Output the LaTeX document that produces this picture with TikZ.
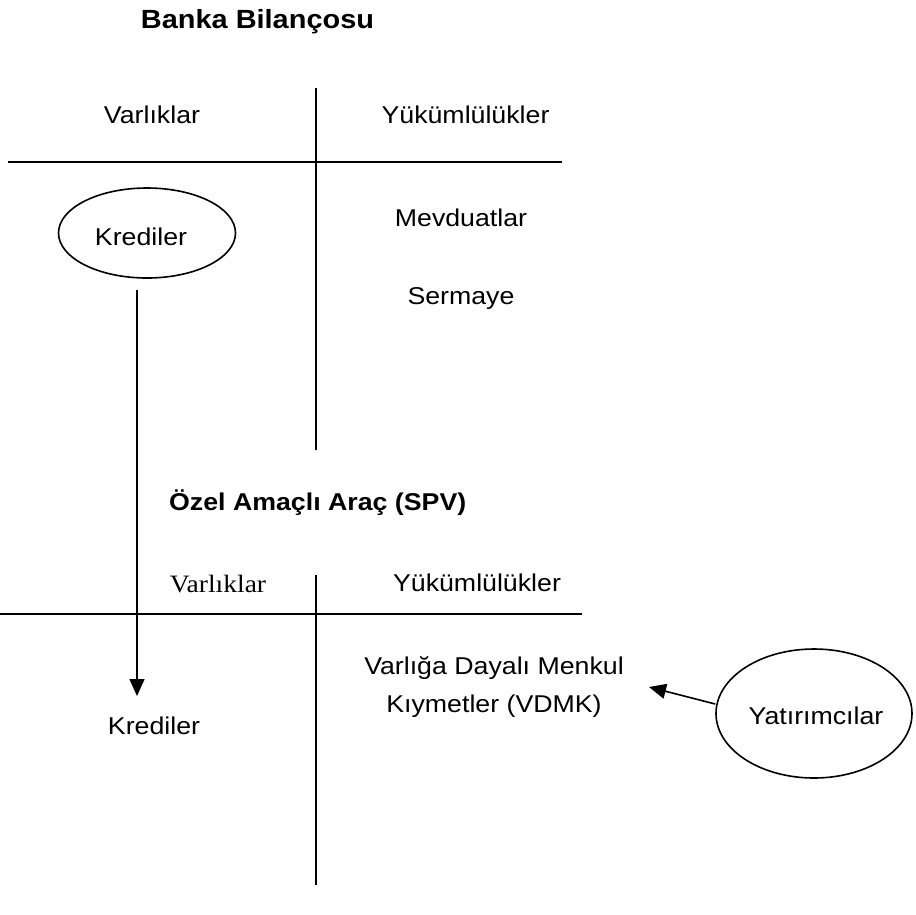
\documentclass[tikz,border=0pt]{standalone}
\usepackage{fontspec}
\setmainfont{Liberation Sans}[FakeStretch=1.1]
\newfontfamily\timesfont{Liberation Serif}[FakeStretch=1.1]
\usetikzlibrary{arrows.meta,shapes.geometric}
\begin{document}
\begin{tikzpicture}[x=1pt,y=-1pt,
  lbl/.style={font=\fontsize{24.3}{28}\selectfont, inner sep=0pt, anchor=base},
  ttl/.style={font=\bfseries\fontsize{24.3}{28}\selectfont, inner sep=0pt, anchor=base},
  rule/.style={line width=1.6pt},
  bubble/.style={draw, ellipse, line width=1.6pt, inner sep=0pt},
  flow/.style={line width=1.6pt, -{Triangle[length=17pt,width=15pt]}}]
  \useasboundingbox (0,0) rectangle (916,914);

  % bank balance sheet
  \node[ttl, font=\bfseries\fontsize{26.3}{30}\selectfont] (t1) at (257.5,28) {Banka Bilançosu};
  \coordinate (v1a) at (316,88);
  \coordinate (v1b) at (316,450);
  \coordinate (h1a) at (8,162);
  \coordinate (h1b) at (562,162);
  \draw[rule] (v1a) -- (v1b);
  \draw[rule] (h1a) -- (h1b);
  \node[lbl] (a1) at (152,123) {Varlıklar};
  \node[lbl] (l1) at (465.5,123) {Yükümlülükler};
  \node[bubble, minimum width=177pt, minimum height=90pt] (kr1) at (147,233) {};
  \node[lbl] (kr1t) at (141,245) {Krediler};
  \node[lbl] (dep) at (461,226) {Mevduatlar};
  \node[lbl] (cap) at (461,304) {Sermaye};

  % special purpose vehicle balance sheet
  \node[ttl, anchor=base west] (t2) at (169,510) {Özel Amaçlı Araç (SPV)};
  \coordinate (v2a) at (316,575);
  \coordinate (v2b) at (316,885);
  \coordinate (h2a) at (0,614);
  \coordinate (h2b) at (582,614);
  \draw[rule] (v2a) -- (v2b);
  \draw[rule] (h2a) -- (h2b);
  \node[lbl, font=\timesfont\fontsize{25}{28}\selectfont] (a2) at (218,592) {Varlıklar};
  \node[lbl] (l2) at (477,591) {Yükümlülükler};
  \node[lbl] (kr2) at (154,734) {Krediler};
  \node[lbl] (abs1) at (494,674) {Varlığa Dayalı Menkul};
  \node[lbl] (abs2) at (494,712) {Kıymetler (VDMK)};
  \node[bubble, minimum width=196pt, minimum height=129pt] (inv) at (814,713.5) {};
  \node[lbl] (invt) at (816,724) {Yatırımcılar};

  % transfers
  \coordinate (s1) at (137,290);
  \coordinate (e1) at (137,696);
  \draw[flow] (s1) -- (e1);
  \coordinate (e2) at (649,687);
  \draw[flow] (inv.west |- 0,704) -- (e2);
\end{tikzpicture}
\end{document}
